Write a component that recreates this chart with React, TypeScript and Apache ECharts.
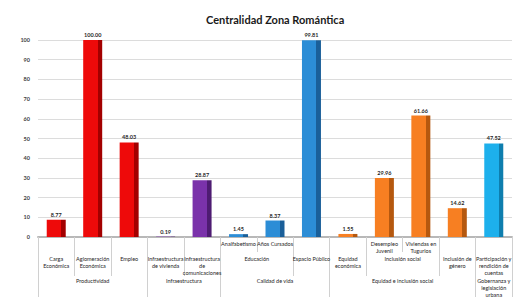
import React, { useEffect, useRef } from 'react';
import * as echarts from 'echarts';

const leafLabels = [
  'Carga\nEconómica',
  'Aglomeración\nEconómica',
  'Empleo',
  'Infraestructura\nde vivienda',
  'Infraestructura\nde\ncomunicaciones',
  'Analfabetismo',
  'Años Cursados',
  'Espacio Público',
  'Equidad\neconómica',
  'Desempleo\nJuvenil',
  'Viviendas en\nTugurios',
  'Inclusión de\ngénero',
  'Participación y\nrendición de\ncuentas',
];
const values = [8.77, 100.0, 48.03, 0.19, 28.87, 1.45, 8.37, 99.81, 1.55, 29.96, 61.66, 14.62, 47.52];
const subgroupNames = ['Educación', 'Inclusión social'];
const subgroupRanges = [[5, 6], [9, 10]];
const dimensionNames = ['Productividad', 'Infraestructura', 'Calidad de vida', 'Equidad e inclusión social', 'Gobernanza y\nlegislación\nurbana'];
const dimensionRanges = [[0, 2], [3, 4], [5, 7], [8, 11], [12, 12]];
const yTicks = [0, 10, 20, 30, 40, 50, 60, 70, 80, 90, 100];

const dimensionColors = [
  ['#EE0A0A', '#A30000'],
  ['#7A32AA', '#4E1C72'],
  ['#2C8DD6', '#1A5F99'],
  ['#F77F22', '#B5580F'],
  ['#1DB0EC', '#0E7EAE'],
];
const FONT = 'Lato, "Liberation Sans", sans-serif';

export default function App() {
  const ref = useRef<HTMLDivElement>(null);
  useEffect(() => {
    if (!ref.current) return;
    const chart = echarts.init(ref.current, null, { renderer: 'svg' });
    const N = leafLabels.length;
    const S = 2 * N + 1;
    const subOf = (i: number) => subgroupRanges.findIndex(([a, b]) => i >= a && i <= b);
    const dimOf = (i: number) => dimensionRanges.findIndex(([a, b]) => i >= a && i <= b);

    const row1 = new Array(S).fill('');
    const row2 = new Array(S).fill('');
    const row3 = new Array(S).fill('');
    for (let i = 0; i < N; i++) {
      if (subOf(i) >= 0) row1[2 * i + 1] = leafLabels[i];
      else row2[2 * i + 1] = leafLabels[i];
    }
    subgroupRanges.forEach(([a, b], g) => { row2[a + b + 1] = subgroupNames[g]; });
    dimensionRanges.forEach(([a, b], g) => { row3[a + b + 1] = dimensionNames[g]; });
    const keyed = (arr: string[]) => arr.map((t, k) => ({ value: 'k' + k, label: t }));

    const fullTicks = new Set<number>([0, 2 * N]);
    dimensionRanges.forEach(([, b]) => fullTicks.add(2 * (b + 1)));
    const medTicks = new Set<number>(fullTicks);
    for (let i = 0; i < N - 1; i++) {
      const s1 = subOf(i), s2 = subOf(i + 1);
      if (!(s1 >= 0 && s1 === s2)) medTicks.add(2 * (i + 1));
    }
    const shortTicks = new Set<number>();
    for (let k = 0; k <= 2 * N; k += 2) shortTicks.add(k);

    const labelStyle = { fontSize: 5.5, lineHeight: 6.6, color: '#262626', fontFamily: FONT };
    const slotAxis = (arr: string[], ticks: Set<number>, len: number, margin: number) => {
      const rows = keyed(arr);
      return {
        type: 'category',
        gridIndex: 0,
        position: 'bottom',
        boundaryGap: false,
        data: rows.map((r) => r.value),
        axisLine: { show: false },
        axisTick: {
          show: true,
          length: len,
          interval: (idx: number) => ticks.has(idx),
          lineStyle: { color: '#D0D0D0', width: 1 },
        },
        axisLabel: {
          show: true,
          interval: 0,
          margin,
          ...labelStyle,
          formatter: (_v: string, idx: number) => rows[idx].label,
        },
        splitLine: { show: false },
      };
    };

    chart.setOption({
      animation: false,
      backgroundColor: '#ffffff',
      title: {
        text: 'Centralidad Zona Romántica',
        left: 201,
        top: 9,
        textStyle: { fontSize: 11, fontWeight: 'bold', color: '#1a1a1a', fontFamily: FONT },
      },
      grid: { left: 38, right: 8, top: 40, bottom: 62 },
      xAxis: [
        {
          type: 'category',
          data: leafLabels,
          axisLine: { show: true, lineStyle: { color: '#B8B8B8', width: 2 } },
          axisTick: { show: false },
          axisLabel: { show: false },
        },
        slotAxis(row1, shortTicks, 15, 4),
        slotAxis(row2, medTicks, 39, 19),
        slotAxis(row3, fullTicks, 60, 41),
      ],
      yAxis: {
        type: 'value',
        min: yTicks[0],
        max: yTicks[yTicks.length - 1],
        interval: yTicks[1] - yTicks[0],
        axisLine: { show: false },
        axisTick: { show: false },
        axisLabel: { fontSize: 5.5, fontWeight: 'bold', color: '#404040', margin: 8, fontFamily: FONT },
        splitLine: { lineStyle: { color: '#DCDCDC', width: 1 } },
      },
      series: [
        {
          type: 'bar',
          xAxisIndex: 0,
          barWidth: 19,
          data: values.map((v, i) => {
            const [front, side] = dimensionColors[dimOf(i)];
            return {
              value: v,
              itemStyle: {
                color: new echarts.graphic.LinearGradient(0, 0, 1, 0, [
                  { offset: 0, color: front },
                  { offset: 0.76, color: front },
                  { offset: 0.76, color: side },
                  { offset: 1, color: side },
                ]),
              },
            };
          }),
          label: {
            show: true,
            position: 'top',
            distance: 2,
            fontSize: 5.5,
            fontWeight: 'bold',
            color: '#1f1f1f',
            fontFamily: FONT,
            formatter: (p: any) => Number(p.value).toFixed(2),
          },
        },
      ],
    });
    return () => chart.dispose();
  }, []);
  return <div ref={ref} style={{ position: 'fixed', left: 0, top: 0, width: 520, height: 299 }} />;
}
